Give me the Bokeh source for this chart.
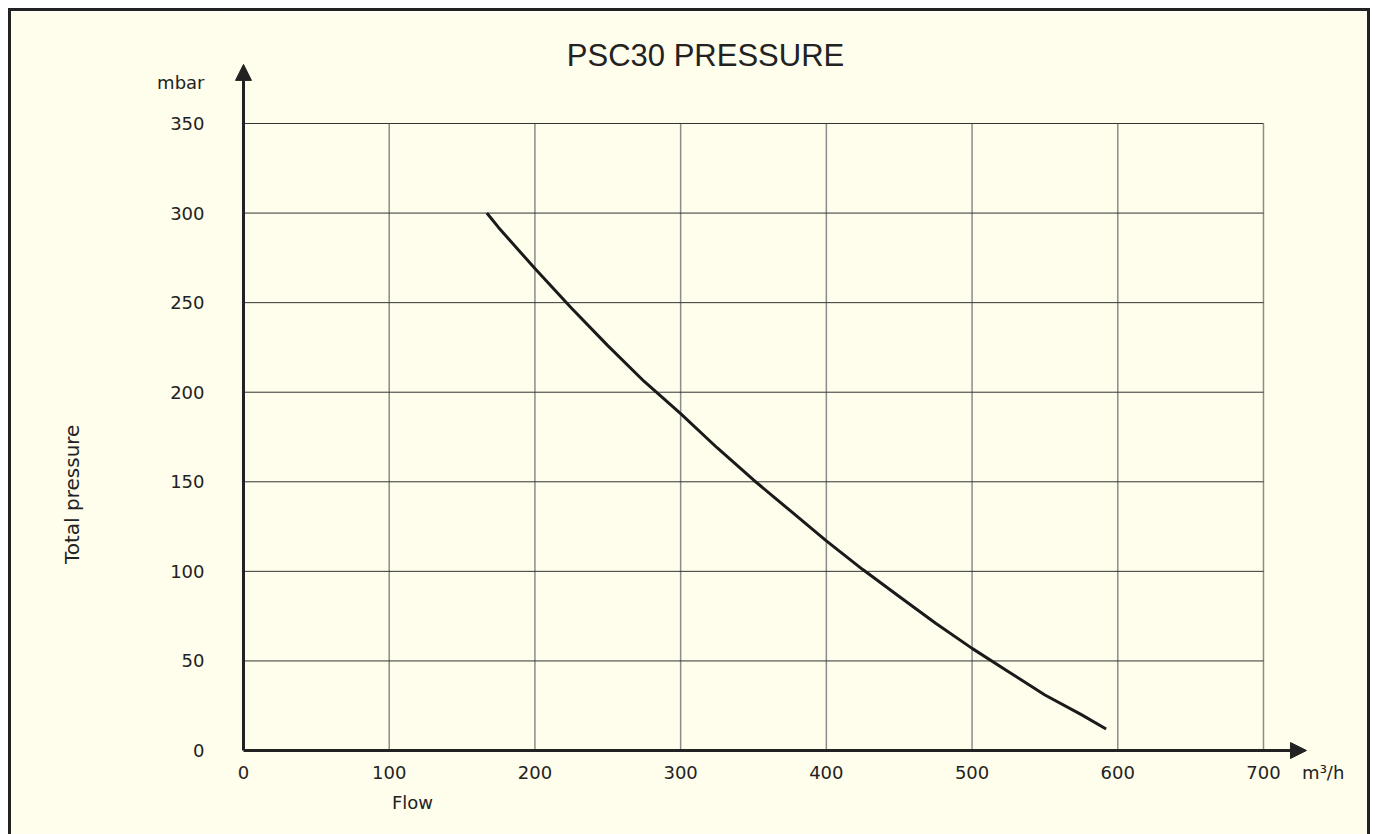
from bokeh.plotting import figure
from bokeh.models import LinearAxis, FixedTicker, Range1d, Label, Arrow, NormalHead
from bokeh.embed import file_html
from bokeh.resources import INLINE

# ---- data ----
title_text = "PSC30   PRESSURE"
y_label = "Total pressure"
x_label = "Flow"
y_unit = "mbar"
x_unit = "m³/h"
x_ticks = [0, 100, 200, 300, 400, 500, 600, 700]
y_ticks = [0, 50, 100, 150, 200, 250, 300, 350]
flow = [167, 175, 200, 225, 250, 275, 300, 325, 350, 375, 400, 425, 450, 475, 500, 525, 550, 575, 592]
pressure = [300, 292, 269, 247, 226, 206, 188, 169, 151, 134, 117, 101, 86, 71, 57, 44, 31, 20, 12]

# label anchor values (data units)
x_unit_pos = 741
y_unit_pos = 373
x_label_pos = 116
y_label_pos = 143
x_arrow_end = 729.5
y_arrow_end = 383

BG = "#fffdeb"
INK = "#222222"
W, H = 1362, 826

p = figure(width=W, height=H, output_backend="svg", toolbar_location=None,
           x_range=Range1d(-6.176, 745.3), y_range=Range1d(-6.14, 411.96),
           min_border_left=223, min_border_right=W - 1318,
           min_border_top=1, min_border_bottom=H - 750,
           background_fill_color=BG, border_fill_color=BG,
           outline_line_color=None)
# dark frame drawn around the drawing (bottom edge falls outside the window)
p.styles = {"margin-left": "8px", "margin-top": "8px",
            "border-left": "3px solid #222", "border-top": "3px solid #222",
            "border-right": "3px solid #222"}
p.xgrid.visible = False
p.ygrid.visible = False

def style_axis(ax, size="18px"):
    ax.axis_line_color = None
    ax.major_tick_line_color = None
    ax.minor_tick_line_color = None
    ax.major_tick_out = 0
    ax.major_tick_in = 0
    ax.minor_tick_out = 0
    ax.major_label_text_font = "DejaVu Sans"
    ax.major_label_text_font_size = size
    ax.major_label_text_color = INK

xa = p.xaxis[0]
xa.ticker = FixedTicker(ticks=x_ticks + [x_unit_pos])
xa.major_label_overrides = {x_unit_pos: x_unit}
style_axis(xa)
xa.major_label_standoff = 0

ya = p.yaxis[0]
ya.ticker = FixedTicker(ticks=y_ticks + [y_unit_pos])
ya.major_label_overrides = {y_unit_pos: y_unit}
style_axis(ya)
ya.major_label_standoff = 30

xa2 = LinearAxis(ticker=FixedTicker(ticks=[x_label_pos]),
                 major_label_overrides={x_label_pos: x_label})
style_axis(xa2)
xa2.major_label_standoff = 6
p.add_layout(xa2, "below")

ya2 = LinearAxis(ticker=FixedTicker(ticks=[y_label_pos]),
                 major_label_overrides={y_label_pos: y_label},
                 major_label_orientation="vertical")
style_axis(ya2, "20px")
ya2.major_label_standoff = 70
p.add_layout(ya2, "left")

# grid lines bounded to the chart box
p.segment(x0=x_ticks[1:], y0=[y_ticks[0]] * 7, x1=x_ticks[1:], y1=[y_ticks[-1]] * 7,
          line_color="#8c8c8c", line_width=1.5)
p.segment(x0=[x_ticks[0]] * 7, y0=y_ticks[1:], x1=[x_ticks[-1]] * 7, y1=y_ticks[1:],
          line_color="#333333", line_width=1)

# axes with arrows
p.add_layout(Arrow(x_start=0, y_start=0, x_end=0, y_end=y_arrow_end, line_width=3, line_color=INK,
                   end=NormalHead(size=16, fill_color=INK, line_color=INK, line_width=1)))
p.add_layout(Arrow(x_start=0, y_start=0, x_end=x_arrow_end, y_end=0, line_width=3, line_color=INK,
                   end=NormalHead(size=16, fill_color=INK, line_color=INK, line_width=1)))

# curve
p.line(flow, pressure, line_width=3, line_color="#1a1a1a")

# title
p.add_layout(Label(x=323, y=388, text=title_text, text_align="center", text_baseline="middle",
                   text_font="Liberation Sans", text_font_size="31px", text_color=INK))

open("out.html", "w").write(file_html(p, INLINE))
